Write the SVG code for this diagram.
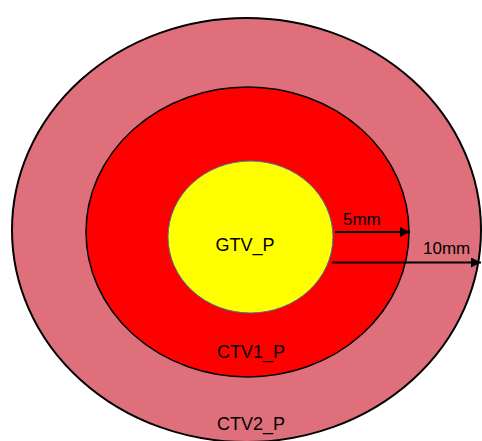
<svg xmlns="http://www.w3.org/2000/svg" width="482" height="441" viewBox="0 0 482 441">
<defs>
<style>
.lbl{font-family:"Liberation Sans",Arial,sans-serif;fill:#000;}
.big{font-size:18px;}
.sm{font-size:17px;}
.arrow{stroke:#000;stroke-width:2;fill:none;}
</style>
<marker id="ah" viewBox="0 0 10 10" refX="10" refY="5" markerWidth="5" markerHeight="5" orient="auto" markerUnits="strokeWidth">
<path d="M0,0 L10,5 L0,10 z" fill="#000"/>
</marker>
</defs>
<rect width="482" height="441" fill="#fff"/>
<g id="ctv2">
<ellipse cx="246.5" cy="230" rx="234.5" ry="212" fill="#DF707B" stroke="#000" stroke-width="2"/>
<text class="lbl big" x="251" y="430" text-anchor="middle">CTV2_P</text>
</g>
<g id="ctv1">
<ellipse cx="247.5" cy="232" rx="161.5" ry="145" fill="#FF0000" stroke="#000" stroke-width="1.5"/>
<text class="lbl big" x="251" y="358" text-anchor="middle">CTV1_P</text>
</g>
<g id="gtv">
<ellipse cx="250.5" cy="237" rx="82.5" ry="76" fill="#FFFF00" stroke="#41719C" stroke-width="1"/>
<text class="lbl big" x="245" y="251" text-anchor="middle">GTV_P</text>
</g>
<g id="connectors">
<line class="arrow" x1="335" y1="232" x2="410" y2="232" marker-end="url(#ah)"/>
<line class="arrow" x1="332" y1="262.5" x2="481" y2="262.5" marker-end="url(#ah)"/>
<text class="lbl sm" x="343" y="225">5mm</text>
<text class="lbl sm" x="423" y="254">10mm</text>
</g>
</svg>
